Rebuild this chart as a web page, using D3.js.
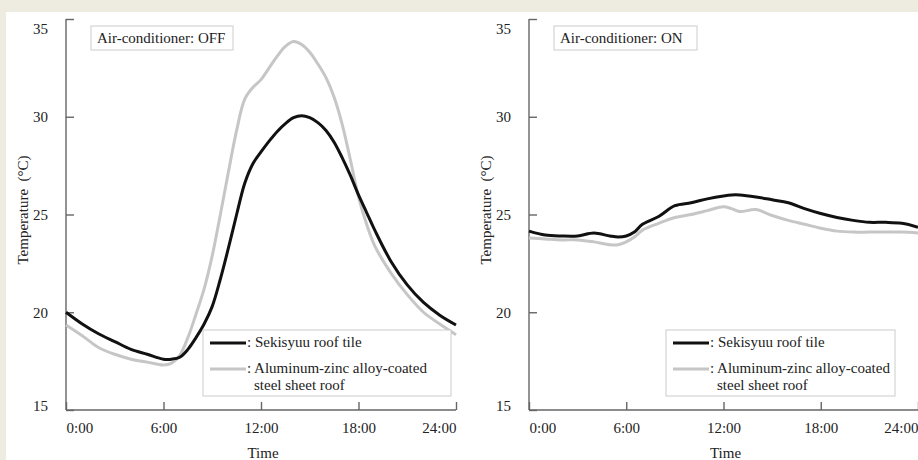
<!DOCTYPE html>
<html>
<head>
<meta charset="utf-8">
<script src="https://cdn.jsdelivr.net/npm/d3@7"></script>
<style>
  body { margin: 0; background: #eeebe1; }
  svg { display: block; }
  svg text { font-family: "Liberation Serif", "DejaVu Serif", serif !important; fill: #222; }
</style>
</head>
<body>
<div id="chart"></div>
<script>
// hours of the day
var hoursOff = [0, 1, 2, 3, 4, 5, 6, 6.5, 7, 7.5, 8, 8.5, 9, 9.5, 10, 10.5, 11, 11.5, 12, 12.5, 13, 13.5, 14, 14.5, 15, 15.5, 16, 16.5, 17, 17.5, 18, 18.5, 19, 20, 21, 22, 23, 24];
// Air-conditioner OFF
var tileOff = [20.0, 19.4, 18.9, 18.5, 18.1, 17.85, 17.6, 17.6, 17.7, 18.1, 18.7, 19.4, 20.3, 21.7, 23.3, 25.0, 26.6, 27.6, 28.2, 28.75, 29.25, 29.65, 29.95, 30.05, 29.95, 29.7, 29.3, 28.7, 27.9, 27.0, 26.0, 25.1, 24.2, 22.6, 21.4, 20.5, 19.85, 19.35];
var steelOff = [19.35, 18.8, 18.2, 17.85, 17.6, 17.45, 17.3, 17.4, 17.8, 18.7, 19.9, 21.2, 22.9, 25.0, 27.2, 29.3, 30.9, 31.5, 31.9, 32.5, 33.1, 33.6, 33.85, 33.7, 33.3, 32.7, 32.0, 31.0, 29.6, 27.8, 25.9, 24.5, 23.4, 22.0, 20.9, 20.0, 19.4, 18.85];

var hoursOn = [0, 1, 2, 3, 4, 5, 5.5, 6, 6.5, 7, 8, 9, 10, 11, 12, 12.5, 13, 14, 15, 16, 17, 18, 19, 20, 21, 22, 23, 24];
// Air-conditioner ON
var tileOn = [24.15, 23.95, 23.9, 23.9, 24.05, 23.9, 23.85, 23.9, 24.1, 24.5, 24.9, 25.45, 25.6, 25.8, 25.95, 26.0, 26.0, 25.9, 25.75, 25.6, 25.3, 25.05, 24.85, 24.7, 24.6, 24.6, 24.55, 24.35];
var steelOn = [23.8, 23.75, 23.7, 23.7, 23.6, 23.45, 23.45, 23.6, 23.85, 24.2, 24.55, 24.85, 25.0, 25.2, 25.4, 25.3, 25.15, 25.25, 24.95, 24.7, 24.5, 24.3, 24.15, 24.1, 24.1, 24.1, 24.1, 24.05];

var xTicks = [0, 6, 12, 18, 24];
var xTickLabels = ["0:00", "6:00", "12:00", "18:00", "24:00"];
var yTicks = [15, 20, 25, 30, 35];

var seriesNames = [": Sekisyuu roof tile", ": Aluminum-zinc alloy-coated", "steel sheet roof"];
var tileColor = "#111111";
var steelColor = "#c6c6c6";
var serif = "'Liberation Serif', 'DejaVu Serif', serif";

var svgWidth = 918;
var svgHeight = 460;

var svg = d3.select("#chart")
    .append("svg")
    .attr("width", svgWidth)
    .attr("height", svgHeight)
    .style("font-family", serif);

// white sheet
svg.append("rect")
    .attr("x", 6)
    .attr("y", 12)
    .attr("width", svgWidth - 6)
    .attr("height", svgHeight - 12)
    .attr("fill", "#ffffff");

function drawPanel(p) {
    var x = d3.scaleLinear().domain([0, 24]).range([p.left, p.right]);
    var y = d3.scaleLinear().domain([15, 35]).range([410, 19]);

    // axes
    var xAxis = d3.axisBottom(x)
        .tickValues(xTicks)
        .tickSize(-8)
        .tickFormat(function (d, i) { return xTickLabels[i]; });
    var gx = svg.append("g")
        .attr("transform", "translate(0,410)")
        .call(xAxis)
        .attr("font-family", serif);
    gx.select(".domain").attr("d", "M" + p.left + ",0H" + p.right);
    gx.selectAll("text")
        .attr("y", 23)
        .attr("dy", 0)
        .attr("font-size", 15)
        .attr("text-anchor", function (d, i) { return i === 0 ? "start" : (i === xTicks.length - 1 ? "end" : "middle"); });

    var yAxis = d3.axisLeft(y)
        .tickValues(yTicks)
        .tickSize(-8)
        .tickPadding(18);
    var gy = svg.append("g")
        .attr("transform", "translate(" + p.left + ",0)")
        .call(yAxis)
        .attr("font-family", serif);
    gy.select(".domain").attr("d", "M0,19V410");
    gy.selectAll("text")
        .attr("font-size", 15)
        .attr("dy", function (d) { return d === 35 ? "0.95em" : (d === 15 ? "0em" : "0.32em"); });

    svg.selectAll(".domain, .tick line")
        .attr("stroke", "#666")
        .attr("stroke-width", 1.4);

    // lines
    var line = d3.line()
        .x(function (d) { return x(d[0]); })
        .y(function (d) { return y(d[1]); })
        .curve(d3.curveCatmullRom.alpha(0.5));

    svg.append("path")
        .datum(d3.zip(p.hours, p.steel))
        .attr("fill", "none")
        .attr("stroke", steelColor)
        .attr("stroke-width", 3)
        .attr("d", line);

    svg.append("path")
        .datum(d3.zip(p.hours, p.tile))
        .attr("fill", "none")
        .attr("stroke", tileColor)
        .attr("stroke-width", 3)
        .attr("d", line);

    // axis labels
    svg.append("text")
        .attr("transform", "translate(" + (p.left - 38) + ",210) rotate(-90)")
        .attr("text-anchor", "middle")
        .attr("font-size", 15)
        .text("Temperature\u00a0\u00a0(\u00b0C)");

    svg.append("text")
        .attr("x", (p.left + p.right) / 2 + 2)
        .attr("y", 458)
        .attr("text-anchor", "middle")
        .attr("font-size", 15)
        .text("Time");

    // condition box
    svg.append("rect")
        .attr("x", p.left + 25)
        .attr("y", 26)
        .attr("width", p.boxW)
        .attr("height", 24)
        .attr("fill", "#fff")
        .attr("stroke", "#cccccc")
        .attr("stroke-width", 1);
    svg.append("text")
        .attr("x", p.left + 31)
        .attr("y", 43)
        .attr("font-size", 15)
        .text(p.title);

    // legend
    var lg = svg.append("g").attr("transform", "translate(" + p.legX + ",330)");
    lg.append("rect")
        .attr("width", p.legW)
        .attr("height", 66)
        .attr("fill", "#fff")
        .attr("stroke", "#cccccc")
        .attr("stroke-width", 1);
    lg.append("line")
        .attr("x1", 7).attr("x2", 43).attr("y1", 13).attr("y2", 13)
        .attr("stroke", tileColor).attr("stroke-width", 3);
    lg.append("line")
        .attr("x1", 7).attr("x2", 43).attr("y1", 39).attr("y2", 39)
        .attr("stroke", steelColor).attr("stroke-width", 3);
    lg.append("text").attr("x", 44).attr("y", 17).attr("font-size", 15).text(seriesNames[0]);
    lg.append("text").attr("x", 44).attr("y", 43).attr("font-size", 15).text(seriesNames[1]);
    lg.append("text").attr("x", 51).attr("y", 60).attr("font-size", 15).text(seriesNames[2]);
}

drawPanel({
    left: 66, right: 456,
    hours: hoursOff, tile: tileOff, steel: steelOff,
    title: "Air-conditioner: OFF", boxW: 142,
    legX: 203, legW: 248
});

drawPanel({
    left: 529, right: 918,
    hours: hoursOn, tile: tileOn, steel: steelOn,
    title: "Air-conditioner: ON", boxW: 143,
    legX: 666, legW: 229
});
</script>
</body>
</html>
